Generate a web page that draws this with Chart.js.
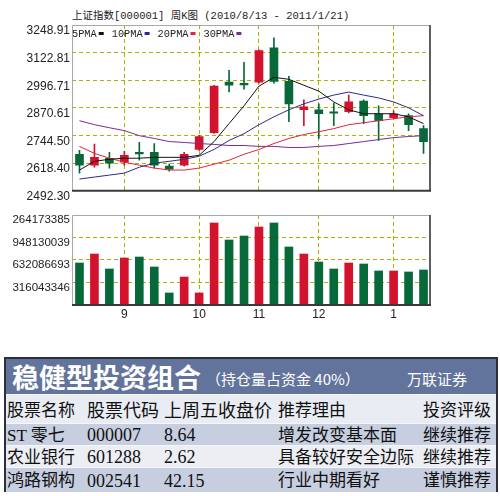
<!DOCTYPE html>
<html>
<head>
<meta charset="utf-8">
<script src="https://cdn.jsdelivr.net/npm/chart.js@4.4.1/dist/chart.umd.min.js"></script>
<style>
  body { margin: 0; background: #fff; font-family: "Liberation Serif", "Noto Sans CJK SC", serif; }
  #wrap { position: relative; width: 500px; height: 496px; overflow: hidden; }
  #title { position: absolute; left: 72px; top: 7px; font-size: 10.5px; font-family: "Liberation Mono", "Noto Sans CJK SC", monospace; color: #222; white-space: pre; }
  #kline { position: absolute; left: 0; top: 0; }
  #vol { position: absolute; left: 0; top: 200px; }
  #box { position: absolute; left: 4px; top: 357px; width: 494px; height: 135px; box-sizing: border-box; border: 2px solid #2c2f3c; background: #e9ecf2; }
  #head { position: relative; height: 35px; background: #62739c; color: #fff; }
  #head span { position: absolute; white-space: nowrap; }
  #h1 { left: 6px; top: 0px; font: 700 27px/35px "Noto Sans CJK SC"; letter-spacing: 0px; }
  #h2 { left: 200px; top: 2px; font: 15px/35px "Noto Sans CJK SC"; }
  #h3 { left: 401px; top: 2px; font: 15px/35px "Noto Sans CJK SC"; }
  .row { position: relative; border-top: 1px solid #f4f6fa; }
  .row span { position: absolute; top: 0; white-space: nowrap; font-size: 17px; color: #111; }
</style>
</head>
<body>
<div id="wrap">
  <div id="title">上证指数[000001] 周K图 (2010/8/13 - 2011/1/21)</div>
  <canvas id="kline" width="440" height="200"></canvas>
  <canvas id="vol" width="440" height="125"></canvas>
  <div id="box">
    <div id="head"><span id="h1">稳健型投资组合</span><span id="h2">（持仓量占资金 40%）</span><span id="h3">万联证券</span></div>
    <div id="rows"></div>
  </div>
</div>
<script>
// weekly candles, 2010/8/13 - 2011/1/21
const weeks = ['2010-08-13', '2010-08-20', '2010-08-27', '2010-09-03', '2010-09-10', '2010-09-17',
  '2010-09-21', '2010-09-30', '2010-10-08', '2010-10-15', '2010-10-22', '2010-10-29',
  '2010-11-05', '2010-11-12', '2010-11-19', '2010-11-26', '2010-12-03', '2010-12-10',
  '2010-12-17', '2010-12-24', '2010-12-31', '2011-01-07', '2011-01-14', '2011-01-21'];

const openP  = [2659, 2609, 2641, 2623, 2668, 2668, 2605, 2609, 2681, 2758, 2988, 2983, 2988, 3145, 2992, 2862, 2862, 2853, 2853, 2902, 2844, 2826, 2835, 2776];
const highP  = [2677, 2706, 2668, 2672, 2713, 2708, 2614, 2668, 2745, 2974, 3042, 3078, 3136, 3190, 3015, 2907, 2889, 2893, 2929, 2907, 2880, 2857, 2844, 2790];
const lowP   = [2573, 2600, 2596, 2609, 2632, 2596, 2582, 2605, 2677, 2754, 2943, 2956, 2983, 2983, 2808, 2790, 2731, 2790, 2848, 2799, 2722, 2821, 2767, 2663];
const closeP = [2609, 2645, 2618, 2654, 2661, 2609, 2591, 2659, 2740, 2970, 2974, 2976, 3132, 2992, 2889, 2875, 2844, 2846, 2898, 2835, 2812, 2844, 2794, 2717];

const ma5  = [2587, 2627, 2636, 2641, 2641, 2645, 2645, 2645, 2654, 2717, 2799, 2880, 2970, 3010, 3001, 2974, 2947, 2898, 2862, 2844, 2844, 2844, 2830, 2799];
const ma10 = [2546, 2555, 2564, 2573, 2600, 2618, 2627, 2636, 2650, 2681, 2722, 2753, 2794, 2830, 2862, 2889, 2911, 2929, 2943, 2929, 2916, 2898, 2871, 2835];
const ma20 = [2695, 2663, 2641, 2623, 2609, 2596, 2587, 2587, 2596, 2614, 2632, 2659, 2681, 2708, 2731, 2749, 2762, 2776, 2794, 2803, 2812, 2821, 2830, 2835];
const ma30 = [2812, 2794, 2780, 2767, 2744, 2731, 2717, 2713, 2708, 2704, 2699, 2699, 2695, 2695, 2690, 2690, 2695, 2699, 2708, 2717, 2726, 2735, 2740, 2744];

const volume = [590e6, 716e6, 506e6, 660e6, 674e6, 534e6, 169e6, 393e6, 169e6, 1152e6, 913e6, 969e6,
  1096e6, 1152e6, 815e6, 716e6, 604e6, 506e6, 590e6, 576e6, 478e6, 478e6, 464e6, 492e6];

const priceTicks = [2492.30, 2618.40, 2744.50, 2870.61, 2996.71, 3122.81, 3248.91];
const volTicks = [0, 316043346, 632086693, 948130039, 1264173385];
const volTickText = ['', '316043346', '632086693', '948130039', '264173385'];

// portfolio table
const colHeads = ['股票名称', '股票代码', '上周五收盘价', '推荐理由', '投资评级'];
const stockNames = ['ST 零七', '农业银行', '鸿路钢构'];
const stockCodes = ['000007', '601288', '002541'];
const lastClose = ['8.64', '2.62', '42.15'];
const reasons = ['增发改变基本面', '具备较好安全边际', '行业中期看好'];
const ratings = ['继续推荐', '继续推荐', '谨慎推荐'];

const RED = '#d3132d', GREEN = '#07693a';
const GRID = '#b0b000';
const candleColor = openP.map((o, i) => closeP[i] >= o ? RED : GREEN);

// month number at the first week of each month
const monthLabel = weeks.map((w, i) => {
  if (i == 0) return '';
  const m = +w.split('-')[1];
  return m != +weeks[i - 1].split('-')[1] ? String(m) : '';
});

const frame = {
  id: 'frame',
  afterDraw(chart) {
    const ctx = chart.ctx, a = chart.chartArea;
    ctx.save();
    ctx.lineWidth = 1;
    ctx.strokeStyle = '#a9a9a9';
    ctx.beginPath();
    ctx.moveTo(a.left + 0.5, a.bottom);
    ctx.lineTo(a.left + 0.5, a.top + 0.5);
    ctx.lineTo(a.right, a.top + 0.5);
    ctx.stroke();
    ctx.lineWidth = 2;
    ctx.strokeStyle = '#5e5e5e';
    ctx.beginPath();
    ctx.moveTo(a.right - 1, a.top);
    ctx.lineTo(a.right - 1, a.bottom);
    ctx.stroke();
    ctx.strokeStyle = '#3a3a3a';
    ctx.beginPath();
    ctx.moveTo(a.left, a.bottom);
    ctx.lineTo(a.right, a.bottom);
    ctx.stroke();
    ctx.restore();
  }
};

const maLegend = {
  id: 'maLegend',
  afterDatasetsDraw(chart) {
    const ctx = chart.ctx;
    let x = chart.chartArea.left;
    const y = chart.chartArea.top + 9;
    ctx.save();
    ctx.font = '10.3px "Liberation Mono"';
    ctx.textBaseline = 'middle';
    chart.data.datasets.forEach(ds => {
      if (ds.type != 'line') return;
      ctx.fillStyle = '#222';
      ctx.fillText(ds.label, x, y);
      x += ctx.measureText(ds.label).width + 2;
      ctx.fillStyle = ds.borderColor;
      ctx.fillRect(x, y - 2, 5, 3);
      x += 13;
    });
    ctx.restore();
  }
};

const axisFont = { family: '"Liberation Sans", Arial', size: 12 };

function lineSet(label, data, color) {
  return { type: 'line', label: label, data: data, borderColor: color, borderWidth: 1,
    pointRadius: 0, tension: 0, fill: false, order: 0 };
}

new Chart(document.getElementById('kline'), {
  type: 'bar',
  data: {
    labels: weeks,
    datasets: [
      lineSet('5PMA', ma5, '#111111'),
      lineSet('10PMA', ma10, '#2b2b8c'),
      lineSet('20PMA', ma20, '#e2243f'),
      lineSet('30PMA', ma30, '#7b2c8e'),
      { label: 'wick', data: lowP.map((l, i) => [l, highP[i]]), backgroundColor: candleColor,
        barThickness: 1, grouped: false, order: 2 },
      { label: 'body', data: openP.map((o, i) => [o, closeP[i]]), backgroundColor: candleColor,
        barThickness: 8, grouped: false, minBarLength: 1, order: 1 }
    ]
  },
  options: {
    responsive: false,
    animation: false,
    layout: { padding: { top: 25, right: 9, bottom: 7, left: 0 } },
    plugins: { legend: { display: false }, tooltip: { enabled: false } },
    scales: {
      x: {
        offset: true,
        grid: { offset: false, drawTicks: false, lineWidth: 1, color: ctx => monthLabel[ctx.index] ? GRID : 'rgba(0,0,0,0)' },
        border: { display: false, dash: [4, 3] },
        ticks: { display: false, autoSkip: false },
        afterFit(s) { s.height = 0; }
      },
      y: {
        min: priceTicks[0],
        max: priceTicks[priceTicks.length - 1],
        afterBuildTicks(s) { s.ticks = priceTicks.map(v => ({ value: v })); },
        ticks: { autoSkip: false, padding: 2, labelOffset: 6, font: axisFont, color: '#222',
          callback: v => v.toFixed(2) },
        grid: { drawTicks: false, lineWidth: 1, color: ctx => (ctx.index > 0 && ctx.index < priceTicks.length - 1) ? GRID : 'rgba(0,0,0,0)' },
        border: { display: false, dash: [4, 3] },
        afterFit(s) { s.width = 72; }
      }
    }
  },
  plugins: [frame, maLegend]
});

new Chart(document.getElementById('vol'), {
  type: 'bar',
  data: {
    labels: weeks,
    datasets: [{ label: 'volume', data: volume, backgroundColor: candleColor, barThickness: 8 }]
  },
  options: {
    responsive: false,
    animation: false,
    layout: { padding: { top: 15, right: 9, bottom: 0, left: 0 } },
    plugins: { legend: { display: false }, tooltip: { enabled: false } },
    scales: {
      x: {
        offset: true,
        grid: { offset: false, drawTicks: false, lineWidth: 1, color: ctx => monthLabel[ctx.index] ? GRID : 'rgba(0,0,0,0)' },
        border: { display: false, dash: [4, 3] },
        ticks: { autoSkip: false, maxRotation: 0, padding: 2, font: axisFont, color: '#222',
          callback: (v, i) => monthLabel[i] },
        afterFit(s) { s.height = 20; }
      },
      y: {
        min: 0,
        max: volTicks[volTicks.length - 1],
        afterBuildTicks(s) { s.ticks = volTicks.map(v => ({ value: v })); },
        ticks: { autoSkip: false, padding: 2, labelOffset: 5, font: { family: '"Liberation Sans", Arial', size: 11.5 }, color: '#222',
          callback: (v, i) => volTickText[i] },
        grid: { drawTicks: false, lineWidth: 1, color: ctx => (ctx.index > 0 && ctx.index < volTicks.length - 1) ? GRID : 'rgba(0,0,0,0)' },
        border: { display: false, dash: [4, 3] },
        afterFit(s) { s.width = 72; }
      }
    }
  },
  plugins: [frame]
});

// table rows
const colLeft = [1, 81, 158, 272, 417];
const rowBg = ['#e9ecf2', '#c6cee0', '#eceef4', '#c6cee0'];
const rowH = [28, 21, 21, 24];
const rowsEl = document.getElementById('rows');
const tableRows = [colHeads];
for (let i = 0; i < stockNames.length; i++) {
  tableRows.push([stockNames[i], stockCodes[i], lastClose[i], reasons[i], ratings[i]]);
}
tableRows.forEach((r, k) => {
  const row = document.createElement('div');
  row.className = 'row';
  row.style.height = rowH[k] + 'px';
  row.style.background = rowBg[k];
  r.forEach((txt, j) => {
    const s = document.createElement('span');
    s.textContent = txt;
    s.style.left = colLeft[j] + 'px';
    s.style.lineHeight = (rowH[k] + (k == 0 ? 4 : 2)) + 'px';
    if (j == 1 || j == 2) s.style.fontSize = '18px';
    row.appendChild(s);
  });
  rowsEl.appendChild(row);
});
</script>
</body>
</html>
